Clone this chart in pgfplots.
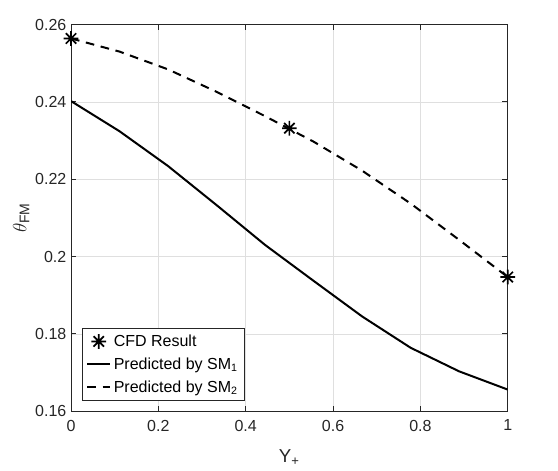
\documentclass[border=0pt]{standalone}
\usepackage{fontspec}
\setmainfont{Liberation Sans}
\usepackage{amsmath}
\usepackage{pgfplots}
\pgfplotsset{compat=1.18}
\definecolor{axgray}{HTML}{262626}
\definecolor{gridgray}{HTML}{DFDFDF}
\pgfdeclareplotmark{mstar}{%
 \pgfpathmoveto{\pgfqpoint{-\pgfplotmarksize}{0pt}}\pgfpathlineto{\pgfqpoint{\pgfplotmarksize}{0pt}}%
 \pgfpathmoveto{\pgfqpoint{0pt}{-\pgfplotmarksize}}\pgfpathlineto{\pgfqpoint{0pt}{\pgfplotmarksize}}%
 \pgfpathmoveto{\pgfqpoint{-0.7071\pgfplotmarksize}{-0.7071\pgfplotmarksize}}\pgfpathlineto{\pgfqpoint{0.7071\pgfplotmarksize}{0.7071\pgfplotmarksize}}%
 \pgfpathmoveto{\pgfqpoint{-0.7071\pgfplotmarksize}{0.7071\pgfplotmarksize}}\pgfpathlineto{\pgfqpoint{0.7071\pgfplotmarksize}{-0.7071\pgfplotmarksize}}%
 \pgfusepathqstroke}
\begin{document}
\begin{tikzpicture}
\useasboundingbox (-53.25pt,-44.25pt) rectangle (365.1pt,308.3pt);
\begin{axis}[
  at={(0,0)}, anchor=south west,
  scale only axis, width=327.4pt, height=289.9pt,
  xmin=0, xmax=1, ymin=0.16, ymax=0.26,
  xtick={0,0.2,0.4,0.6,0.8,1},
  xticklabels={0,0.2,0.4,0.6,0.8,1},
  ytick={0.16,0.18,0.2,0.22,0.24,0.26},
  yticklabels={0.16,0.18,0.2,0.22,0.24,0.26},
  grid=major,
  major grid style={gridgray, line width=0.5pt},
  axis line style={axgray, line width=0.6pt},
  tick style={axgray, line width=0.6pt},
  tick align=inside,
  major tick length=4pt,
  ticklabel style={font=\fontsize{12}{14}\selectfont, text=axgray},
  xticklabel style={yshift=-3pt},
  xlabel={Y\textsubscript{+}},
  ylabel={$\theta$\textsubscript{FM}},
  xlabel style={at={(axis description cs:0.5,-0.133)}, anchor=base, font=\fontsize{14}{16}\selectfont, text=axgray},
  ylabel style={at={(axis description cs:-0.102,0.5)}, anchor=base, font=\fontsize{15}{17}\selectfont, text=axgray},
  clip mode=individual,
  legend cell align=left,
  legend style={at={(0.025,0.026)}, anchor=south west, draw=axgray, line width=0.6pt,
    font=\fontsize{12}{14}\selectfont, row sep=3pt, inner sep=3pt, text=black},
]
\addplot[only marks, mark=mstar, mark size=5.5pt, line width=1.3pt, black] coordinates {(0,0.2564) (0.5,0.2332) (1,0.1947)};
\addlegendentry{CFD Result}
\addplot[black, line width=1.5pt] coordinates {
(0,0.2402) (0.1111,0.2324) (0.2222,0.2234) (0.3333,0.2133) (0.4444,0.2030)
(0.5556,0.1937) (0.6667,0.1845) (0.7778,0.1764) (0.8889,0.1703) (1,0.1656)};
\addlegendentry{Predicted by SM\textsubscript{1}}
\addplot[black, line width=1.5pt, dash pattern=on 6.5pt off 5pt] coordinates {
(0,0.2564) (0.1111,0.2530) (0.2222,0.2484) (0.3333,0.2426) (0.4444,0.2363)
(0.5556,0.2297) (0.6667,0.2222) (0.7778,0.2137) (0.8889,0.2043) (1,0.1947)};
\addlegendentry{Predicted by SM\textsubscript{2}}
\end{axis}
\end{tikzpicture}
\end{document}
